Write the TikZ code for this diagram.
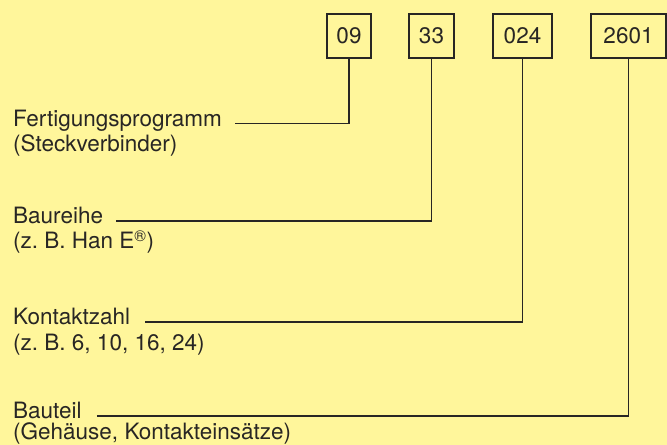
\documentclass[tikz,border=0pt]{standalone}
\usepackage{fontspec}
\setmainfont{TeX Gyre Heros}
\definecolor{bg}{RGB}{255,246,155}
\definecolor{ink}{RGB}{40,38,36}
\frenchspacing
\begin{document}
\begin{tikzpicture}[x=1bp,y=1bp,
  every node/.style={font=\fontsize{22.5bp}{26bp}\selectfont, text=ink},
  numbox/.style={draw=ink, line width=1.3bp, minimum height=44bp, inner sep=0pt, anchor=center},
  lbl/.style={inner sep=0pt, anchor=base west},
  conn/.style={draw=ink, line width=1.3bp}]
\fill[bg] (0,0) rectangle (667,445);
\useasboundingbox (0,0) rectangle (667,445);
% boxes
\node[numbox, minimum width=44bp] (b09) at (349,409) {09};
\node[numbox, minimum width=45bp] (b33) at (431.5,409) {33};
\node[numbox, minimum width=59bp] (b024) at (522.5,409) {024};
\node[numbox, minimum width=75bp] (b2601) at (628.5,409) {2601};
% labels
\node[lbl] (f1) at (13,318) {Fertigungsprogramm};
\node[lbl] (f2) at (13,293) {(Steckverbinder)};
\node[lbl] (r1) at (13,221) {Baureihe};
\node[lbl] (r2) at (13,196) {(z.\ B.\ Han E\textsuperscript{®})};
\node[lbl] (k1) at (13,120) {Kontaktzahl};
\node[lbl] (k2) at (13,94.5) {(z.\ B.\ 6, 10, 16, 24)};
\node[lbl] (t1) at (13,26) {Bauteil};
\node[lbl] (t2) at (13,5) {(Gehäuse, Kontakteinsätze)};
% connectors
\draw[conn] ([xshift=13bp,yshift=3.3bp]f1.base east) -| (b09.south);
\draw[conn] ([xshift=13bp,yshift=3bp]r1.base east) -| (b33.south);
\draw[conn] ([xshift=15bp,yshift=3bp]k1.base east) -| (b024.south);
\draw[conn] ([xshift=15bp,yshift=3bp]t1.base east) -| (b2601.south);
\end{tikzpicture}
\end{document}
